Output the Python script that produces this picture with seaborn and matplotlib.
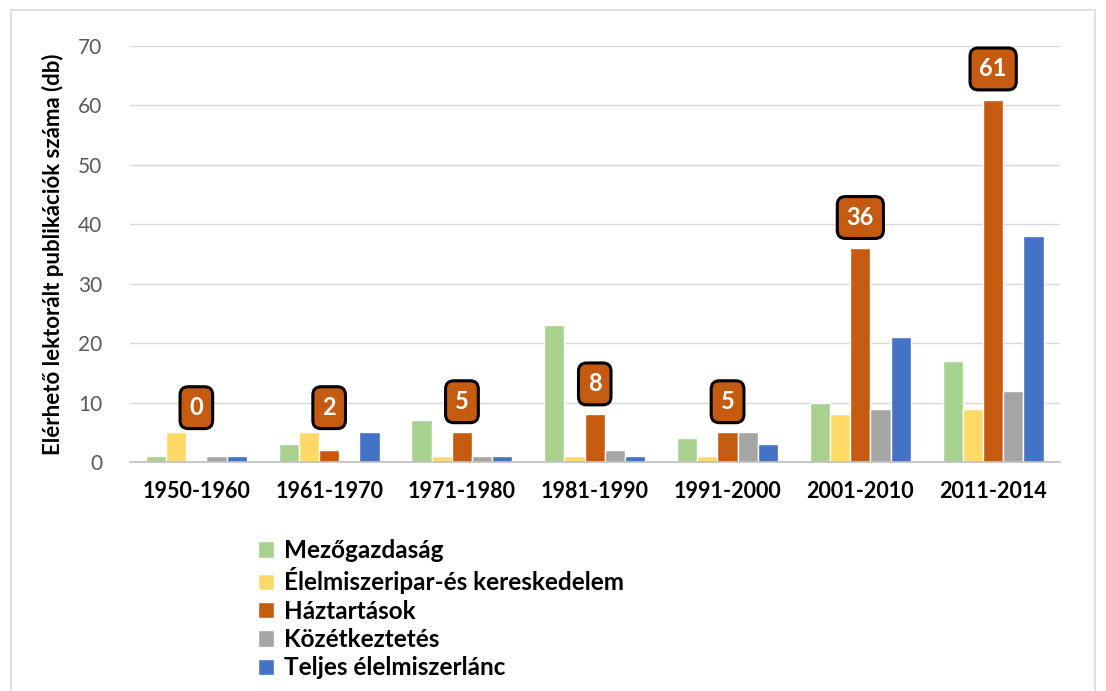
import numpy as np
import pandas as pd
import matplotlib
matplotlib.use("Agg")
import matplotlib.pyplot as plt
import seaborn as sns
from matplotlib.patches import Rectangle

periods = ["1950-1960", "1961-1970", "1971-1980", "1981-1990", "1991-2000", "2001-2010", "2011-2014"]
sectors = ["Mezőgazdaság", "Élelmiszeripar-és kereskedelem", "Háztartások", "Közétkeztetés", "Teljes élelmiszerlánc"]
mezogazdasag = [1, 3, 7, 23, 4, 10, 17]
elelmiszeripar = [5, 5, 1, 1, 1, 8, 9]
haztartasok = [0, 2, 5, 8, 5, 36, 61]
kozetkeztetes = [1, 0, 1, 2, 5, 9, 12]
teljes = [1, 5, 1, 1, 3, 21, 38]
colors = ["#A9D18E", "#FFD966", "#C55A11", "#A5A5A5", "#4472C4"]

rows = []
for name, vals in zip(sectors, [mezogazdasag, elelmiszeripar, haztartasok, kozetkeztetes, teljes]):
    for p, v in zip(periods, vals):
        rows.append({"period": p, "sector": name, "value": v})
df = pd.DataFrame(rows)

sns.set_theme(style="white")
plt.rcParams["font.family"] = ["Lato", "DejaVu Sans"]
plt.rcParams["text.color"] = "black"

fig = plt.figure(figsize=(11.06, 6.91), dpi=100)
ax = fig.add_axes([0.1175, 0.3314, 0.8405, 0.602])

sns.barplot(data=df, x="period", y="value", hue="sector", palette=colors,
            width=0.76, ax=ax, saturation=1, legend=True)

ax.set_ylim(0, 70)
ax.set_xlim(-0.5, 6.5)
ax.set_yticks(range(0, 71, 10))
ax.yaxis.grid(True, color="#D9D9D9", linewidth=1)
ax.set_axisbelow(True)
for s in ["top", "right", "left"]:
    ax.spines[s].set_visible(False)
ax.spines["bottom"].set_color("#BFBFBF")
ax.spines["bottom"].set_linewidth(1.2)

ax.tick_params(axis="y", length=0, labelsize=15, labelcolor="#595959", pad=20)
ax.tick_params(axis="x", which="major", length=0, labelsize=15.5, pad=14)
ax.set_xticks(np.arange(-0.5, 7, 1), minor=True)
ax.tick_params(axis="x", which="minor", length=8, color="#BFBFBF", width=1.2)
for lbl in ax.get_xticklabels():
    lbl.set_fontweight("bold")
    lbl.set_color("black")

ax.set_xlabel("")
ax.set_ylabel("Elérhető lektorált publikációk száma (db)", fontsize=16,
              fontweight="bold", color="black", labelpad=10)

# data labels above Háztartások bars
for i, v in enumerate(haztartasok):
    ax.annotate(str(v), xy=(i, max(v, 4)), xytext=(0, 22),
                textcoords="offset points", ha="center", va="center",
                fontsize=17, fontweight="bold", color="white",
                bbox=dict(boxstyle="round,pad=0.4,rounding_size=0.35",
                          fc="#C55A11", ec="black", lw=2.2))

handles, labels = ax.get_legend_handles_labels()
ax.legend(handles, labels, loc="upper left", bbox_to_anchor=(0.138, -0.185),
          frameon=False, prop={"weight": "bold", "size": 17.5}, labelcolor="black",
          handlelength=0.65, handleheight=0.65, handletextpad=0.4,
          labelspacing=0.22, borderaxespad=0, borderpad=0)

fig.patches.append(Rectangle((0.0095, -0.01), 0.9805, 0.995, transform=fig.transFigure,
                             fill=False, edgecolor="#D9D9D9", linewidth=1.2))

fig.savefig("out.png", dpi=100)
